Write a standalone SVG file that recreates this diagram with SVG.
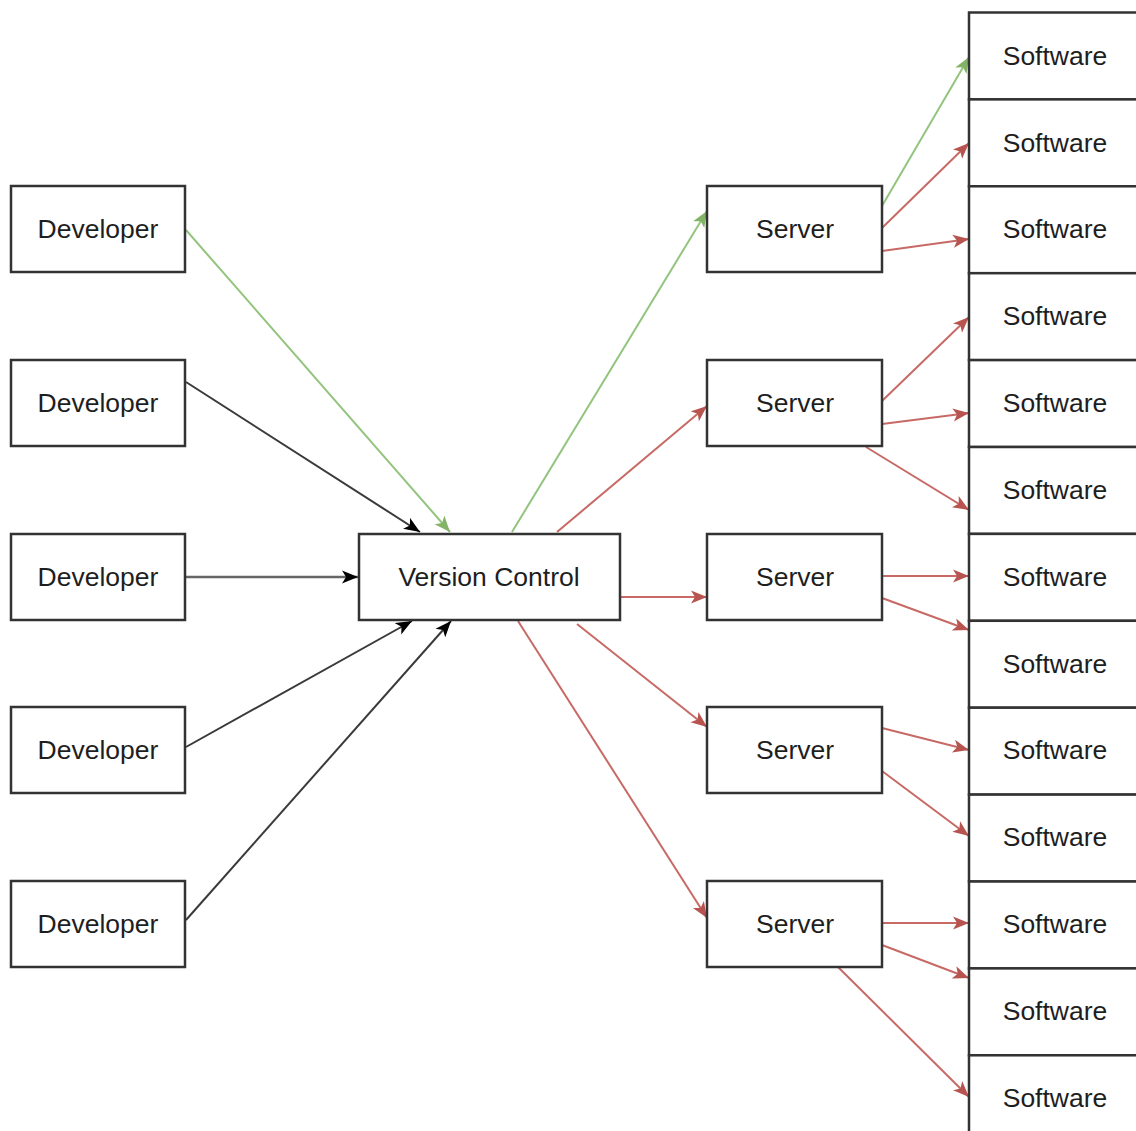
<svg xmlns="http://www.w3.org/2000/svg" width="1136" height="1131" viewBox="0 0 1136 1131">
<style>
.box{fill:#fff;stroke:#333;stroke-width:2.5}
.lbl{font-family:"Liberation Sans",Arial,sans-serif;font-size:26.5px;fill:#1e1e1e;text-anchor:middle}
.e{fill:none;stroke-width:2}
.k{stroke:#3a3a3a;marker-end:url(#ak)}
.g{stroke:#93c47d;marker-end:url(#ag)}
.r{stroke:#c76a66;marker-end:url(#ar)}
</style>
<defs>
<marker id="ak" markerUnits="userSpaceOnUse" markerWidth="18" markerHeight="16" refX="16" refY="7" orient="auto"><path d="M0,0.5 L16,7 L0,13.5 L4,7 Z" fill="#000"/></marker>
<marker id="ag" markerUnits="userSpaceOnUse" markerWidth="18" markerHeight="16" refX="16" refY="7" orient="auto"><path d="M0,0.5 L16,7 L0,13.5 L4,7 Z" fill="#82b366"/></marker>
<marker id="ar" markerUnits="userSpaceOnUse" markerWidth="18" markerHeight="16" refX="16" refY="7" orient="auto"><path d="M0,0.5 L16,7 L0,13.5 L4,7 Z" fill="#b85450"/></marker>
</defs>
<rect width="1136" height="1131" fill="#fff"/>

<g id="connectors">
<line class="e g" x1="186" y1="230" x2="450" y2="532"/>
<line class="e k" x1="186" y1="382" x2="420" y2="532"/>
<line class="e k" x1="186" y1="577" x2="358" y2="577" style="stroke:#666;stroke-width:2.5"/>
<line class="e k" x1="186" y1="747" x2="412" y2="621"/>
<line class="e k" x1="186" y1="920" x2="451" y2="621"/>

<line class="e g" x1="512" y1="532" x2="707" y2="211"/>
<line class="e r" x1="557" y1="532" x2="707" y2="406"/>
<line class="e r" x1="621" y1="597" x2="707" y2="597"/>
<line class="e r" x1="577" y1="624" x2="707" y2="727"/>
<line class="e r" x1="518" y1="621" x2="707" y2="918"/>

<line class="e g" x1="882" y1="206" x2="969" y2="57"/>
<line class="e r" x1="882" y1="228" x2="969" y2="143"/>
<line class="e r" x1="882" y1="251" x2="969" y2="239"/>
<line class="e r" x1="882" y1="401" x2="969" y2="317"/>
<line class="e r" x1="882" y1="424" x2="969" y2="413"/>
<line class="e r" x1="866" y1="447" x2="969" y2="510"/>
<line class="e r" x1="882" y1="576" x2="969" y2="576"/>
<line class="e r" x1="882" y1="598" x2="969" y2="630"/>
<line class="e r" x1="882" y1="728" x2="969" y2="750"/>
<line class="e r" x1="882" y1="771" x2="969" y2="836"/>
<line class="e r" x1="882" y1="923" x2="969" y2="923"/>
<line class="e r" x1="882" y1="945" x2="969" y2="978"/>
<line class="e r" x1="838" y1="967" x2="969" y2="1097"/>
</g>

<g id="dev1"><rect class="box" x="11" y="186" width="174" height="86"/><text class="lbl" x="98" y="238">Developer</text></g>
<g id="dev2"><rect class="box" x="11" y="360" width="174" height="86"/><text class="lbl" x="98" y="412">Developer</text></g>
<g id="dev3"><rect class="box" x="11" y="534" width="174" height="86"/><text class="lbl" x="98" y="586">Developer</text></g>
<g id="dev4"><rect class="box" x="11" y="707" width="174" height="86"/><text class="lbl" x="98" y="759">Developer</text></g>
<g id="dev5"><rect class="box" x="11" y="881" width="174" height="86"/><text class="lbl" x="98" y="933">Developer</text></g>

<g id="vc"><rect class="box" x="359" y="534" width="261" height="86"/><text class="lbl" x="489" y="586">Version Control</text></g>

<g id="srv1"><rect class="box" x="707" y="186" width="175" height="86"/><text class="lbl" x="795" y="238">Server</text></g>
<g id="srv2"><rect class="box" x="707" y="360" width="175" height="86"/><text class="lbl" x="795" y="412">Server</text></g>
<g id="srv3"><rect class="box" x="707" y="534" width="175" height="86"/><text class="lbl" x="795" y="586">Server</text></g>
<g id="srv4"><rect class="box" x="707" y="707" width="175" height="86"/><text class="lbl" x="795" y="759">Server</text></g>
<g id="srv5"><rect class="box" x="707" y="881" width="175" height="86"/><text class="lbl" x="795" y="933">Server</text></g>

<g id="sw1"><rect class="box" x="969" y="12.5" width="175" height="86.9"/><text class="lbl" x="1055" y="65">Software</text></g>
<g id="sw2"><rect class="box" x="969" y="99.4" width="175" height="86.9"/><text class="lbl" x="1055" y="152">Software</text></g>
<g id="sw3"><rect class="box" x="969" y="186.3" width="175" height="86.9"/><text class="lbl" x="1055" y="238">Software</text></g>
<g id="sw4"><rect class="box" x="969" y="273.2" width="175" height="86.9"/><text class="lbl" x="1055" y="325">Software</text></g>
<g id="sw5"><rect class="box" x="969" y="360.1" width="175" height="86.9"/><text class="lbl" x="1055" y="412">Software</text></g>
<g id="sw6"><rect class="box" x="969" y="447" width="175" height="86.9"/><text class="lbl" x="1055" y="499">Software</text></g>
<g id="sw7"><rect class="box" x="969" y="533.9" width="175" height="86.9"/><text class="lbl" x="1055" y="586">Software</text></g>
<g id="sw8"><rect class="box" x="969" y="620.8" width="175" height="86.9"/><text class="lbl" x="1055" y="673">Software</text></g>
<g id="sw9"><rect class="box" x="969" y="707.7" width="175" height="86.9"/><text class="lbl" x="1055" y="759">Software</text></g>
<g id="sw10"><rect class="box" x="969" y="794.6" width="175" height="86.9"/><text class="lbl" x="1055" y="846">Software</text></g>
<g id="sw11"><rect class="box" x="969" y="881.5" width="175" height="86.9"/><text class="lbl" x="1055" y="933">Software</text></g>
<g id="sw12"><rect class="box" x="969" y="968.4" width="175" height="86.9"/><text class="lbl" x="1055" y="1020">Software</text></g>
<g id="sw13"><rect class="box" x="969" y="1055.3" width="175" height="86.9"/><text class="lbl" x="1055" y="1107">Software</text></g>
</svg>
